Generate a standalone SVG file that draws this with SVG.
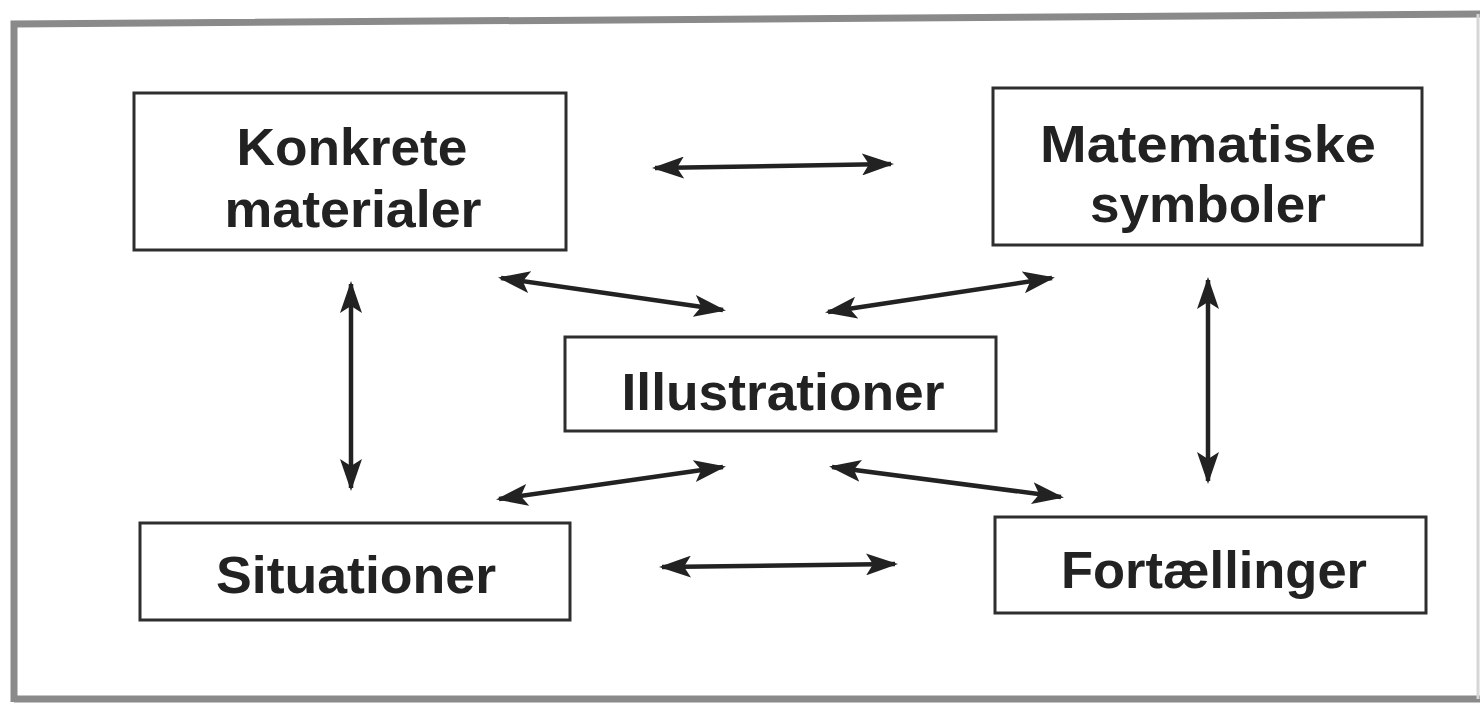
<svg xmlns="http://www.w3.org/2000/svg" width="1483" height="706" viewBox="0 0 1483 706">
  <style>
    .frame { fill: none; stroke: #8a8a8a; stroke-width: 7; }
    .box { fill: #ffffff; stroke: #2e2e2e; stroke-width: 3; }
    .lbl { font-family: "Liberation Sans", Arial, sans-serif; font-weight: bold; font-size: 52px; fill: #222222; text-anchor: middle; }
    .conn { stroke: #222222; stroke-width: 4.5; fill: none; marker-start: url(#ah); marker-end: url(#ah); }
  </style>
  <defs>
    <marker id="ah" viewBox="0 0 32 22" refX="29" refY="11" markerWidth="32" markerHeight="22" markerUnits="userSpaceOnUse" orient="auto-start-reverse">
      <path d="M0,0 L32,11 L0,22 L7,11 Z" fill="#222222"/>
    </marker>
  </defs>
  <rect x="0" y="0" width="1483" height="706" fill="#ffffff"/>
  <g id="frame">
    <path class="frame" d="M14,702 L14,24 L1480,14"/>
    <path class="frame" d="M14,699 L1480,699"/>
    <path d="M1478,14 L1478,699" stroke="#d6d6d6" stroke-width="3" fill="none"/>
  </g>
  <g id="connectors">
    <line class="conn" x1="655" y1="168" x2="891" y2="164"/>
    <line class="conn" x1="662" y1="567" x2="895" y2="564"/>
    <line class="conn" x1="351" y1="284" x2="351" y2="488"/>
    <line class="conn" x1="1208" y1="280" x2="1208" y2="481"/>
    <line class="conn" x1="501" y1="278" x2="723" y2="310"/>
    <line class="conn" x1="828" y1="312" x2="1052" y2="278"/>
    <line class="conn" x1="723" y1="467" x2="499" y2="499"/>
    <line class="conn" x1="832" y1="467" x2="1061" y2="497"/>
  </g>
  <g id="konkrete">
    <rect class="box" x="134" y="93" width="432" height="157"/>
    <text class="lbl" x="352" y="165" textLength="231" lengthAdjust="spacingAndGlyphs">Konkrete</text>
    <text class="lbl" x="353" y="227" textLength="257" lengthAdjust="spacingAndGlyphs">materialer</text>
  </g>
  <g id="matematiske">
    <rect class="box" x="993" y="88" width="429" height="157"/>
    <text class="lbl" x="1208" y="162" textLength="336" lengthAdjust="spacingAndGlyphs">Matematiske</text>
    <text class="lbl" x="1208" y="222" textLength="236" lengthAdjust="spacingAndGlyphs">symboler</text>
  </g>
  <g id="illustrationer">
    <rect class="box" x="565" y="337" width="431" height="94"/>
    <text class="lbl" x="783" y="410" textLength="323" lengthAdjust="spacingAndGlyphs">Illustrationer</text>
  </g>
  <g id="situationer">
    <rect class="box" x="140" y="523" width="430" height="97"/>
    <text class="lbl" x="356" y="593" textLength="280" lengthAdjust="spacingAndGlyphs">Situationer</text>
  </g>
  <g id="fortaellinger">
    <rect class="box" x="995" y="517" width="431" height="96"/>
    <text class="lbl" x="1214" y="588" textLength="306" lengthAdjust="spacingAndGlyphs">Fortællinger</text>
  </g>
</svg>
